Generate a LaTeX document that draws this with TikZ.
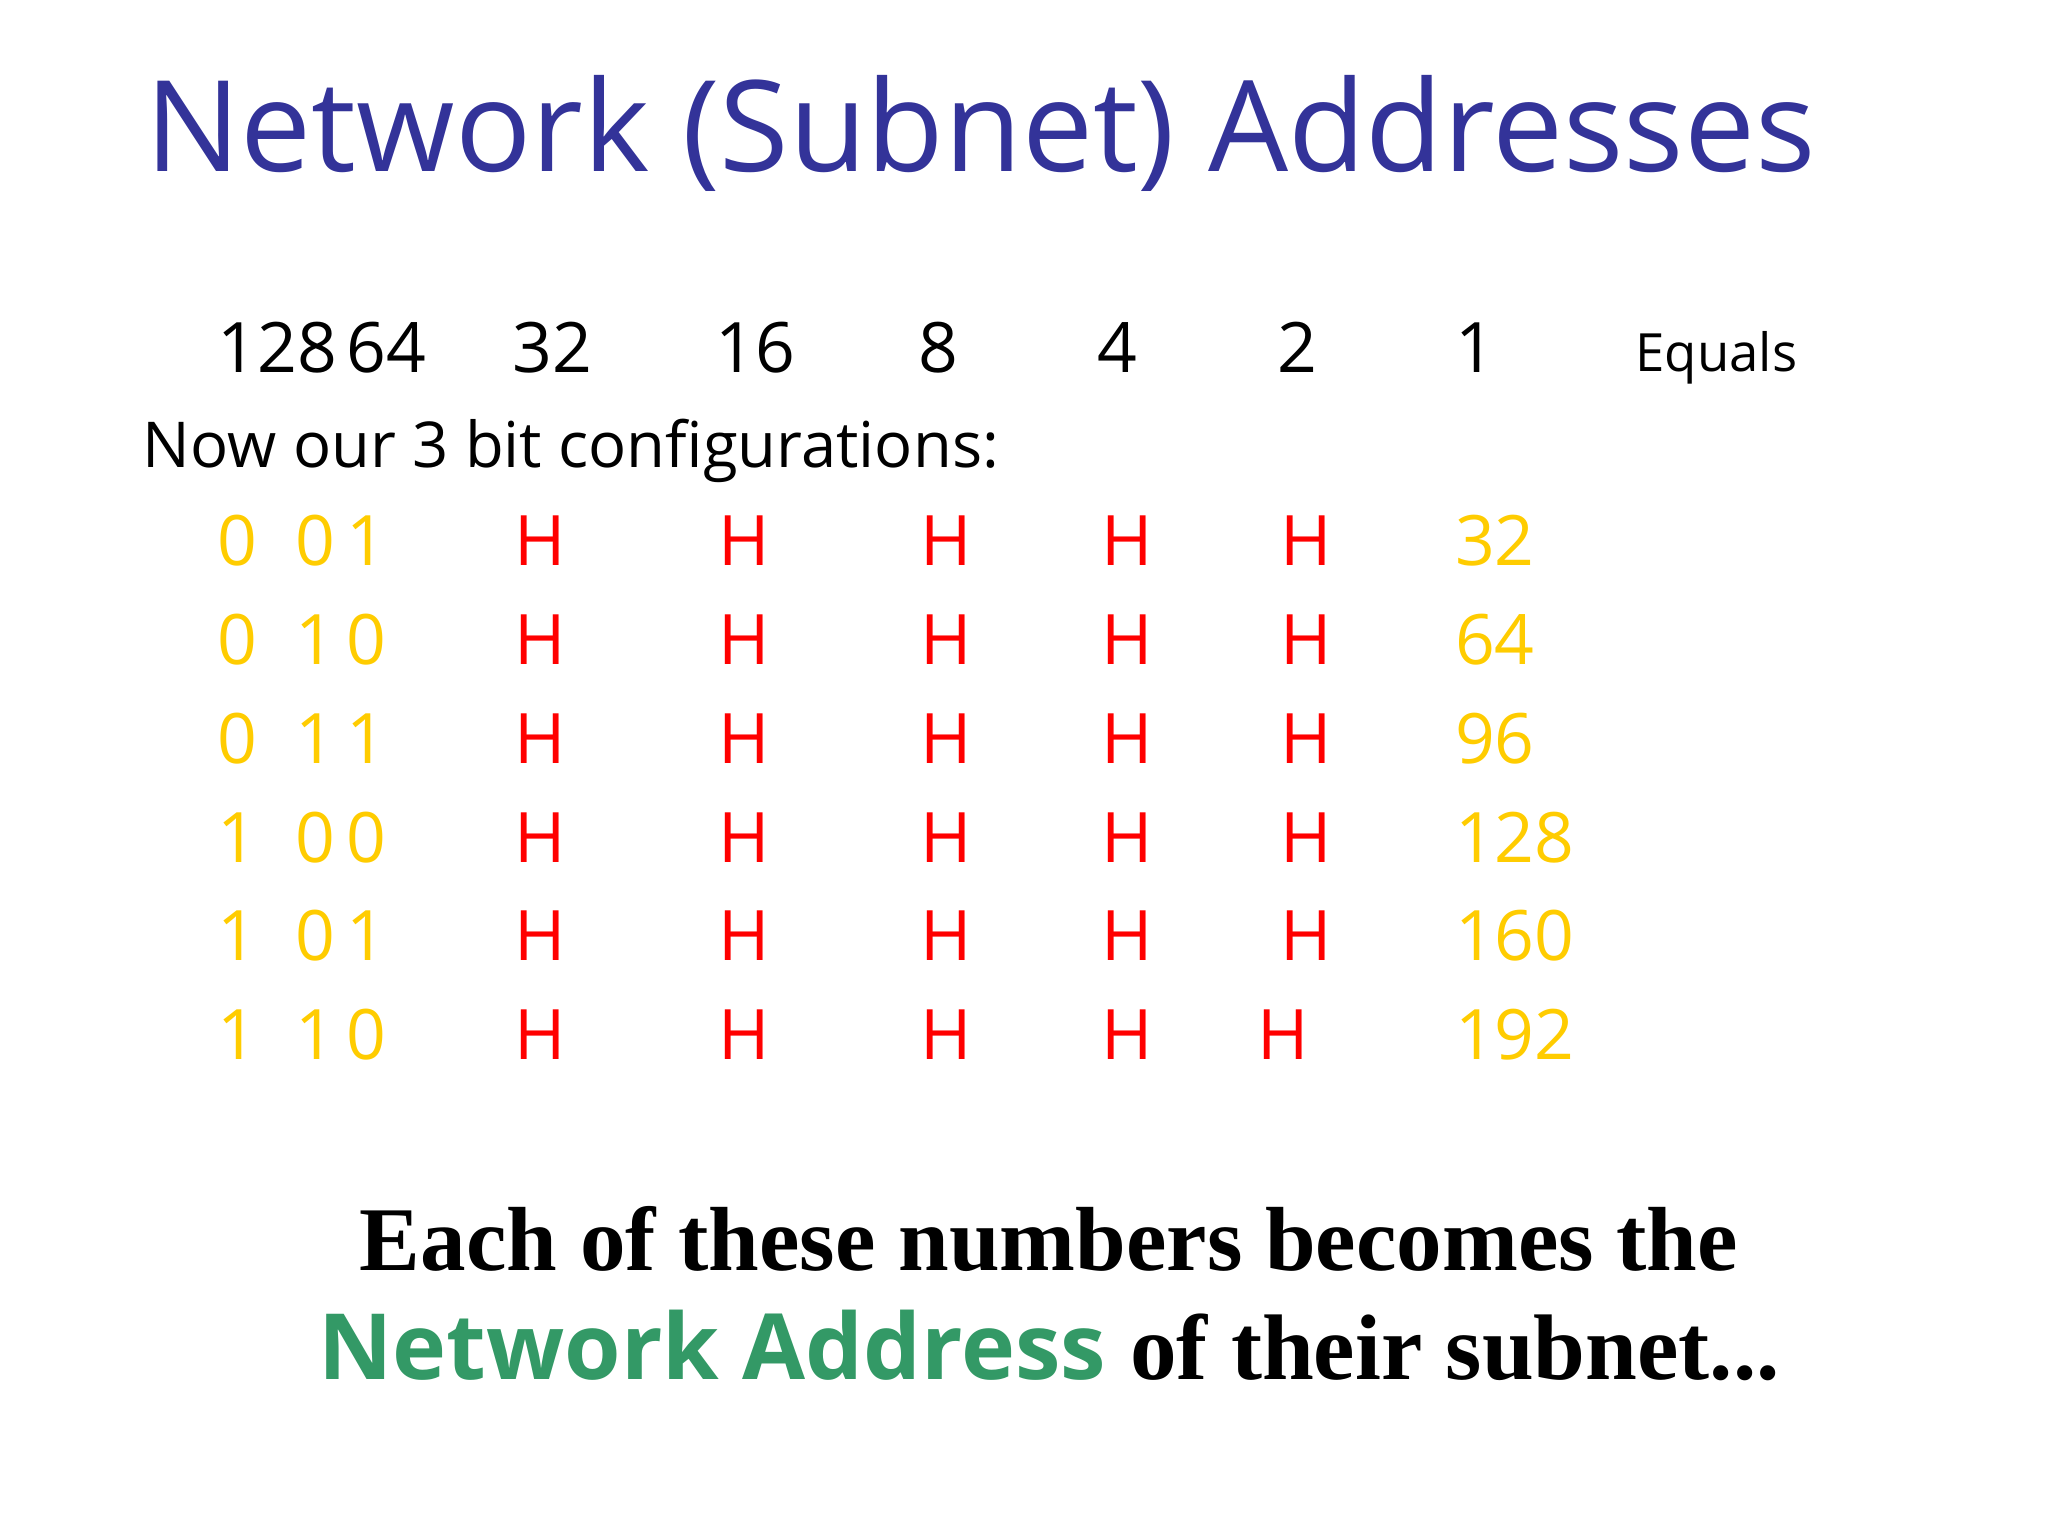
\documentclass[tikz,border=0pt]{standalone}
\usepackage{fontspec}
\setmainfont{Open Sans}
\newfontfamily\serifb{Liberation Serif}
\definecolor{ttl}{HTML}{333399}
\definecolor{yel}{HTML}{FFCC00}
\definecolor{grn}{HTML}{339966}
\begin{document}
\begin{tikzpicture}[x=0.1316mm,y=-0.1316mm,
  t/.style={anchor=base west,inner sep=0pt},
  hd/.style={t,font=\fontsize{19.8}{24}\selectfont},
  yv/.style={t,text=yel,font=\fontsize{19.8}{24}\selectfont},
  hh/.style={t,text=red,font=\fontsize{19.8}{24}\selectfont}]
\useasboundingbox (0,0) rectangle (1556,1168);
\node[t,text=ttl,font=\fontsize{36}{42}\selectfont] (title) at (110,130) {Network (Subnet) Addresses};
\foreach \v/\x [count=\i] in {128/165,64/263,32/389,16/543,8/697,4/833,2/970,1/1105}
  \node[hd] (h\i) at (\x,283) {\v};
\node[t,font=\fontsize{15}{18}\selectfont] (eq) at (1242,282) {Equals};
\node[t,font=\fontsize{18}{22}\selectfont] (now) at (108,355) {Now our 3 bit configurations:};
\foreach \a/\b/\v/\hx [count=\r] in {0/0\,1/32/972,0/1\,0/64/972,0/1\,1/96/972,1/0\,0/128/972,1/0\,1/160/972,1/1\,0/192/955}{
  \pgfmathsetmacro\yy{355+75*\r}
  \node[yv] (a\r) at (165,\yy) {\a};
  \node[yv] (b\r) at (224,\yy) {\b};
  \foreach \x [count=\j] in {390,545,699,836}
    \node[hh] (r\r c\j) at (\x,\yy) {H};
  \node[hh] (r\r c5) at (\hx,\yy) {H};
  \node[yv] (v\r) at (1105,\yy) {\v};
}
\node[anchor=base,inner sep=0pt,font=\serifb\bfseries\fontsize{25.9}{30}\selectfont] (l1) at (797,965) {Each of these numbers becomes the};
\node[anchor=base,inner sep=0pt,font=\fontsize{26.5}{30}\selectfont] (l2) at (797,1048) {{\bfseries\color{grn}\fontsize{26}{30}\selectfont Network Address} {\serifb\bfseries of their subnet...}};
\end{tikzpicture}
\end{document}
